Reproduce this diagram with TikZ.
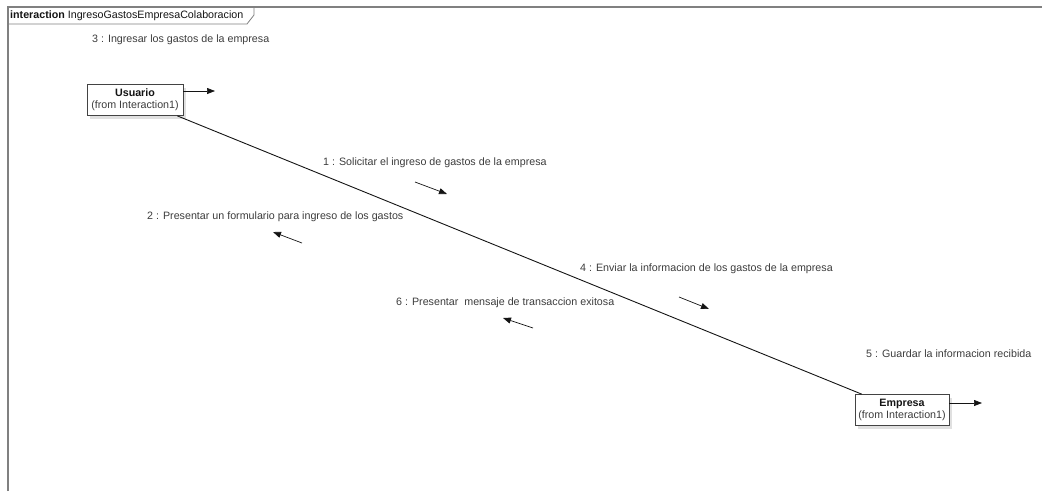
\documentclass[tikz,border=0pt]{standalone}
\usepackage{fontspec}
\setmainfont{Liberation Sans}
\usetikzlibrary{arrows.meta, positioning, shadows}
\definecolor{FrameGrey}{RGB}{128,128,128}
\definecolor{TextGrey}{RGB}{60,60,60}
\definecolor{LineDark}{RGB}{20,20,20}

\begin{document}
\begin{tikzpicture}[
            x=1pt, y=-1pt,
            font=\fontsize{10.7}{12}\selectfont,
            objbox/.style={
                draw=LineDark!80,
                fill=white,
                line width=0.8pt,
                align=center,
                inner sep=1pt,
                minimum height=31pt,
                text=TextGrey,
                drop shadow={shadow xshift=3pt, shadow yshift=-3pt, fill=black!12, opacity=1}
            },
            msglabel/.style={anchor=west, text=TextGrey, inner sep=0pt},
            arrow/.style={-{Triangle[length=8pt, width=6pt]}, line width=0.7pt, draw=LineDark},
            link/.style={line width=0.9pt, draw=LineDark},
            frameline/.style={line width=1.4pt, draw=FrameGrey}
        ]
            \useasboundingbox (0,0) rectangle (1042,491);

            % frame of the interaction
            \draw[frameline] (8,491) -- (8,7) -- (1042,7);
            \draw[line width=0.8pt, draw=FrameGrey] (254,7) -- (254,15) -- (247,24) -- (8,24);
            \node[msglabel, text=LineDark] (title) at (10,15.5)
                {\textbf{interaction} IngresoGastosEmpresaColaboracion};

            % objects
            \node[objbox, minimum width=96pt] (usuario) at (135,100)
                {\textbf{\color{LineDark}Usuario}\\(from Interaction1)};
            \node[objbox, minimum width=94pt] (empresa) at (902,410)
                {\textbf{\color{LineDark}Empresa}\\(from Interaction1)};

            \coordinate (uself) at (215,91);
            \coordinate (eself) at (982,403);
            \draw[arrow] (usuario.east |- uself) -- (uself);
            \draw[arrow] (empresa.east |- eself) -- (eself);

            % link
            \draw[link] ([xshift=-6pt]usuario.south east) -- ([xshift=7pt]empresa.north west);

            % messages
            \node[msglabel] (m3) at (92,40) {3 : Ingresar los gastos de la empresa};
            \node[msglabel] (m1) at (323,163) {1 : Solicitar el ingreso de gastos de la empresa};
            \node[msglabel] (m2) at (147,217) {2 : Presentar un formulario para ingreso de los gastos};
            \node[msglabel] (m4) at (580,269) {4 : Enviar la informacion de los gastos de la empresa};
            \node[msglabel] (m6) at (396,303) {6 : Presentar\ \ mensaje de transaccion exitosa};
            \node[msglabel] (m5) at (866,354) {5 : Guardar la informacion recibida};

            \coordinate (a1s) at (415,182);
            \coordinate (a1e) at (447,194);
            \coordinate (a2s) at (302,243);
            \coordinate (a2e) at (273,232);
            \coordinate (a4s) at (679,297);
            \coordinate (a4e) at (709,309);
            \coordinate (a6s) at (533,328);
            \coordinate (a6e) at (503,318);

            \draw[arrow] (a1s) -- (a1e);
            \draw[arrow] (a2s) -- (a2e);
            \draw[arrow] (a4s) -- (a4e);
            \draw[arrow] (a6s) -- (a6e);
        \end{tikzpicture}
\end{document}
